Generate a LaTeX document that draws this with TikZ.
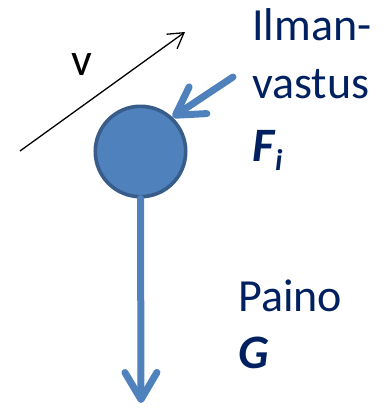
\documentclass[tikz,border=0pt]{standalone}
\usepackage{fontspec}
\setmainfont{Carlito}
\usetikzlibrary{arrows.meta}
\definecolor{ballfill}{HTML}{4F81BD}
\definecolor{balledge}{HTML}{385D8A}
\definecolor{navy}{HTML}{002060}
\begin{document}
\begin{tikzpicture}[x=1pt,y=-1pt,
  bigfont/.style={font=\fontsize{46}{56}\selectfont},
  label/.style={bigfont,text=navy,anchor=base west,inner sep=0pt},
  force/.style={ballfill,line width=7pt,line cap=round,
    -{Straight Barb[length=27pt,width=32pt,round]}},
  vel/.style={black,line width=1.3pt,
    -{Straight Barb[length=15pt,width=18pt]}}]
\useasboundingbox (0,0) rectangle (389,408);
\node[circle,fill=ballfill,draw=balledge,line width=3.6pt,minimum size=90.4pt,inner sep=0pt] (ball) at (140.5,151.5) {};
\coordinate (gend) at (141,403);
\coordinate (fstart) at (233,77);
\coordinate (vstart) at (20,151);
\coordinate (vend) at (185,32);
\draw[force] (ball.south) -- (gend);
\draw[force] (fstart) -- (ball.47);
\draw[vel] (vstart) -- (vend);
\node[bigfont,anchor=base west,inner sep=0pt] (vlab) at (71,75) {v};
\node[label] (ilman) at (252,40) {Ilman-};
\node[label] (vastus) at (252,98) {vastus};
\node[label] (fi) at (252,161) {\fontsize{48}{56}\selectfont\textbf{\textit{F\kern1pt\raisebox{-9pt}{\fontsize{30}{30}\selectfont i}}}};
\node[label] (paino) at (238,311) {Paino};
\node[label] (g) at (238,368) {\fontsize{48}{56}\selectfont\textbf{\textit{G}}};
\end{tikzpicture}
\end{document}
